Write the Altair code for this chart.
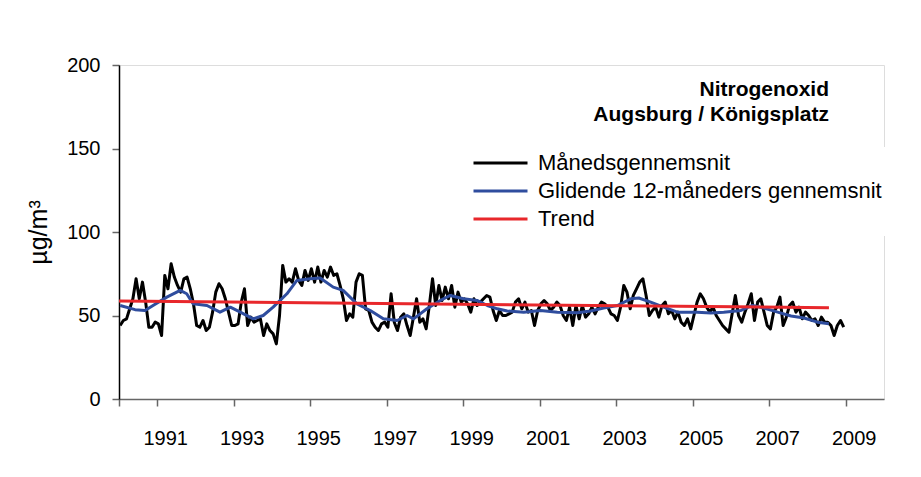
import altair as alt
import pandas as pd

FONT = "Liberation Sans, Arial, Helvetica, sans-serif"

S_MONTH = "Månedsgennemsnit"
S_MA = "Glidende 12-måneders gennemsnit"
S_TREND = "Trend"
series_names = [S_MONTH, S_MA, S_TREND]
series_colors = ["#000000", "#2f4d9e", "#e8272b"]

title_lines = ["Nitrogenoxid", "Augsburg / Königsplatz"]
y_title = "µg/m³"

# monthly means, Jan 1990 .. Dec 2008
first_month = 1990.03
monthly_values = [
    44, 47, 48, 54, 60, 72, 60, 70, 58, 43, 43, 46,
    45, 38, 74, 66, 81, 73, 68, 64, 72, 73, 66, 57,
    44, 43, 47, 41, 43, 52, 64, 69, 66, 60, 52, 44,
    44, 45, 58, 66, 44, 49, 46, 47, 48, 38, 45, 41,
    39, 33, 50, 80, 70, 72, 70, 78, 71, 68, 77, 71,
    78, 70, 79, 70, 77, 73, 79, 74, 75, 68, 60, 47,
    51, 49, 70, 75, 74, 54, 53, 46, 43, 41, 45, 46,
    43, 63, 46, 41, 49, 51, 44, 38, 49, 60, 46, 48,
    42, 56, 72, 56, 68, 59, 67, 60, 68, 55, 64, 58,
    60, 57, 52, 60, 56, 58, 60, 62, 61, 53, 47, 53,
    50, 50, 51, 52, 58, 60, 54, 58, 52, 53, 44, 53,
    57, 59, 57, 53, 55, 58, 56, 50, 47, 55, 44, 56,
    48, 56, 49, 51, 55, 51, 55, 58, 57, 55, 51, 50,
    47, 55, 68, 64, 54, 62, 66, 70, 72, 62, 50, 53,
    55, 49, 56, 58, 51, 53, 48, 52, 46, 44, 48, 42,
    50, 58, 63, 60, 55, 52, 55, 50, 47, 44, 42, 40,
    51, 62, 50, 46, 52, 57, 63, 47, 58, 60, 52, 44,
    42, 52, 55, 61, 44, 49, 56, 58, 52, 55, 48, 52,
    50, 47, 48, 44, 49, 46, 46, 44, 38, 44, 47, 43,
]

# 12-month moving average
ma_years = [1990.03, 1990.42, 1990.68, 1990.89, 1991.25, 1991.60, 1991.77, 1991.94,
            1992.30, 1992.64, 1992.91, 1993.17, 1993.51, 1993.77, 1994.03, 1994.39,
            1994.65, 1995.00, 1995.26, 1995.60, 1995.86, 1996.22, 1996.57, 1996.91,
            1997.27, 1997.53, 1997.70, 1998.05, 1998.40, 1998.66, 1999.01, 1999.36,
            1999.63, 1999.89, 2000.15, 2000.58, 2001.02, 2001.46, 2001.98, 2002.33,
            2002.67, 2003.03, 2003.38, 2003.59, 2003.90, 2004.24, 2004.60, 2005.12,
            2005.47, 2005.81, 2006.26, 2006.56, 2006.86, 2007.22, 2007.57, 2007.91,
            2008.26, 2008.56]
ma_values = [56, 53.5, 53, 56, 61, 65, 63, 57,
             56, 52, 55, 52, 48, 50, 55, 63,
             71, 72, 72.5, 67, 65, 57, 53, 48,
             47, 50, 48, 54, 59, 62, 60, 59,
             56, 54, 52.7, 52, 53, 52, 51.7, 52.7,
             54.5, 56, 60, 60.5, 58, 55, 52, 52,
             51.5, 52, 53, 56, 54.5, 52, 49.7, 48.5,
             46, 45]

trend_years = [1990.0, 2008.56]
trend_values = [58.7, 54.7]

x_ticks = [1990, 1991, 1993, 1995, 1997, 1999, 2001, 2003, 2005, 2007, 2009]
y_ticks = [0, 50, 100, 150, 200]

rows = []
for i, v in enumerate(monthly_values):
    rows.append({"t": first_month + i / 12, "v": v, "s": S_MONTH})
for t, v in zip(ma_years, ma_values):
    rows.append({"t": t, "v": v, "s": S_MA})
for t, v in zip(trend_years, trend_values):
    rows.append({"t": t, "v": v, "s": S_TREND})
df = pd.DataFrame(rows)

color = alt.Color(
    "s:N",
    scale=alt.Scale(domain=series_names, range=series_colors),
    legend=alt.Legend(
        title=None, orient="none", legendX=350, legendY=82,
        symbolType="stroke", symbolSize=2916, symbolStrokeWidth=3,
        labelFontSize=22, labelFont=FONT, labelColor="black",
        labelOffset=9, rowPadding=2, padding=3, clipHeight=26,
        fillColor="white", labelLimit=600, strokeColor="white",
    ),
)

x = alt.X(
    "t:Q",
    scale=alt.Scale(domain=[1990, 2010], nice=False, zero=False),
    axis=alt.Axis(
        values=x_ticks, format="d",
        labelExpr="datum.value == 1990 ? '' : datum.label",
        labelFontSize=20, labelFont=FONT, labelColor="black",
        labelPadding=22, labelOffset=8, tickSize=7, tickColor="#666666",
        tickWidth=1.5, domainColor="#666666", domainWidth=1.5, grid=False,
        title=None, labelFlush=False, labelOverlap=False,
    ),
)
y = alt.Y(
    "v:Q",
    scale=alt.Scale(domain=[0, 200], nice=False),
    axis=alt.Axis(
        values=y_ticks, labelFontSize=20, labelFont=FONT, labelColor="black",
        labelPadding=12, tickSize=7, tickColor="#666666", tickWidth=1.5,
        domainColor="#000000", domainWidth=1.5, grid=False,
        title=y_title, titleFont=FONT, titleFontSize=25, titleFontWeight="normal",
        titleColor="black", titlePadding=15,
    ),
)

def layer(name):
    return alt.Chart(df).transform_filter(alt.datum.s == name).mark_line(
        strokeWidth=3, strokeJoin="round"
    ).encode(x=x, y=y, color=color)

chart = alt.layer(layer(S_MONTH), layer(S_MA), layer(S_TREND)).properties(
    width=765, height=334,
    title=alt.TitleParams(
        title_lines, anchor="end", frame="group", align="right", baseline="top",
        fontSize=21, fontWeight="bold", font=FONT, color="black",
        dx=-55, dy=70, offset=0, lineHeight=25,
    ),
    autosize=alt.AutoSizeParams(type="none"),
    padding={"left": 111, "top": 57, "right": 29, "bottom": 70},
).configure_view(stroke="#808080", strokeWidth=1.5).configure(background="white")

chart.save("out.html", embed_options={"renderer": "svg", "actions": False})
